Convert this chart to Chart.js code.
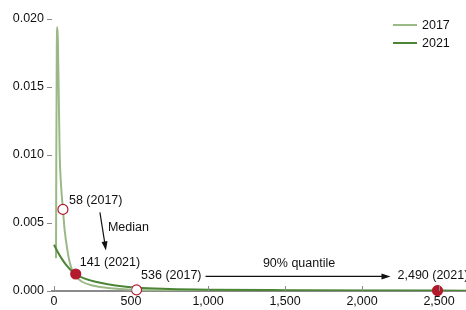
<!DOCTYPE html>
<html>
<head>
<meta charset="utf-8">
<script src="https://cdn.jsdelivr.net/npm/chart.js@4.4.0/dist/chart.umd.min.js"></script>
<style>
  html, body { margin: 0; padding: 0; background: #fff; }
  #wrap { position: relative; width: 466px; height: 310px; }
</style>
</head>
<body>
<div id="wrap"><canvas id="densityChart"></canvas></div>
<script>
// density curves
const x2017 = [13, 15, 18, 21, 25, 30, 37, 44, 58, 69, 87, 100, 119, 141, 180, 250, 350, 536, 800, 1200, 1800, 2680];
const y2017 = [0.0024, 0.010, 0.0175, 0.0194, 0.0185, 0.015, 0.010, 0.0081, 0.006, 0.0045, 0.003, 0.0022, 0.0015, 0.0011, 0.0007, 0.0004, 0.00022, 0.00008, 0.00004, 0.00002, 0.00001, 0.000005];
const x2021 = [0, 25, 50, 80, 110, 141, 180, 230, 300, 400, 536, 750, 1000, 1500, 2000, 2490, 2680];
const y2021 = [0.0034, 0.00285, 0.00238, 0.0019, 0.00153, 0.00125, 0.001, 0.0008, 0.0006, 0.0004, 0.00024, 0.00015, 0.0001, 0.00006, 0.00004, 0.00003, 0.000025];

// marked points: medians and 90% quantiles
const pointX = [58, 141, 536, 2490];
const pointY = [0.006, 0.00125, 0.00008, 0.00003];
const pointLabels = ['58 (2017)', '141 (2021)', '536 (2017)', '2,490 (2021)'];
const pointFilled = [false, true, false, true];

const xTicks = [0, 500, 1000, 1500, 2000, 2500];
const yTicks = [0, 0.005, 0.010, 0.015, 0.020];
const seriesNames = ['2017', '2021'];

const light = '#9bb987';
const dark = '#4b8535';
const red = '#b31b2c';
const axisGrey = '#8a8a8a';
const FONT = '12.5px "Liberation Sans", Arial, sans-serif';

function pairs(xs, ys) {
    return xs.map(function(x, i) { return { x: x, y: ys[i] }; });
}

// annotations, legend and inward x ticks
const extras = {
    id: 'extras',
    afterDraw: function(chart) {
        const c = chart.ctx;
        const xs = chart.scales.x, ys = chart.scales.y;
        const area = chart.chartArea;
        c.save();

        // x tick marks pointing up from the axis
        c.strokeStyle = axisGrey;
        c.lineWidth = 1;
        xTicks.forEach(function(t) {
            const px = Math.round(xs.getPixelForValue(t)) + 0.5;
            c.beginPath();
            c.moveTo(px, area.bottom - 5);
            c.lineTo(px, area.bottom);
            c.stroke();
        });

        c.font = FONT;
        c.fillStyle = '#111';
        c.textBaseline = 'middle';
        const p = pointX.map(function(v, i) {
            return { x: xs.getPixelForValue(v), y: ys.getPixelForValue(pointY[i]) };
        });
        const offs = [[6, -9], [4, -11], [4.5, -14], [-40, -15]];
        pointLabels.forEach(function(t, i) {
            c.fillText(t, p[i].x + offs[i][0], p[i].y + offs[i][1]);
        });

        c.strokeStyle = '#111';
        c.fillStyle = '#111';
        c.lineWidth = 1.2;
        function arrow(x1, y1, x2, y2) {
            const a = Math.atan2(y2 - y1, x2 - x1);
            c.beginPath();
            c.moveTo(x1, y1);
            c.lineTo(x2 - 7 * Math.cos(a), y2 - 7 * Math.sin(a));
            c.stroke();
            c.beginPath();
            c.moveTo(x2, y2);
            c.lineTo(x2 - 9 * Math.cos(a) + 3 * Math.sin(a), y2 - 9 * Math.sin(a) - 3 * Math.cos(a));
            c.lineTo(x2 - 9 * Math.cos(a) - 3 * Math.sin(a), y2 - 9 * Math.sin(a) + 3 * Math.cos(a));
            c.closePath();
            c.fill();
        }
        // median arrow
        arrow(p[0].x + 37, p[0].y + 3, p[0].x + 43, p[0].y + 41);
        c.fillText('Median', p[0].x + 45, p[0].y + 18);

        // 90% quantile arrow
        const qy = p[2].y - 13.5;
        arrow(p[2].x + 69, qy, p[3].x - 47, qy);
        c.textAlign = 'center';
        c.fillText('90% quantile', (p[2].x + p[3].x) / 2 + 12, p[2].y - 26);

        // legend
        c.textAlign = 'left';
        [light, dark].forEach(function(col, i) {
            const ly = 25 + i * 18;
            c.strokeStyle = col;
            c.lineWidth = 2;
            c.beginPath();
            c.moveTo(393, ly);
            c.lineTo(417, ly);
            c.stroke();
            c.fillStyle = '#111';
            c.fillText(seriesNames[i], 422, ly + 1);
        });
        c.restore();
    }
};

document.addEventListener('DOMContentLoaded', function() {
    const ctx = document.getElementById('densityChart').getContext('2d');
    new Chart(ctx, {
        type: 'line',
        data: {
            datasets: [{
                label: seriesNames[0],
                data: pairs(x2017, y2017),
                borderColor: light,
                borderWidth: 2,
                pointRadius: 0,
                cubicInterpolationMode: 'monotone',
                fill: false,
                order: 3
            }, {
                label: seriesNames[1],
                data: pairs(x2021, y2021),
                borderColor: dark,
                borderWidth: 2,
                pointRadius: 0,
                cubicInterpolationMode: 'monotone',
                fill: false,
                order: 2
            }, {
                label: 'points',
                data: pairs(pointX, pointY),
                showLine: false,
                pointRadius: 5,
                pointBorderWidth: 1.2,
                pointBorderColor: red,
                pointBackgroundColor: pointFilled.map(function(f) { return f ? red : '#fff'; }),
                clip: false,
                order: 1
            }]
        },
        options: {
            responsive: true,
            maintainAspectRatio: false,
            animation: false,
            layout: { autoPadding: false, padding: { top: 19, right: 0, left: 0, bottom: 0 } },
            scales: {
                x: {
                    type: 'linear',
                    min: -13,
                    max: 2675,
                    afterBuildTicks: function(s) { s.ticks = xTicks.map(function(v) { return { value: v }; }); },
                    afterFit: function(s) { s.height = 19; },
                    grid: { display: false, drawTicks: false, tickLength: 0 },
                    border: { display: true, color: axisGrey, width: 2 },
                    ticks: {
                        padding: 3,
                        maxRotation: 0,
                        color: '#111',
                        font: { family: '"Liberation Sans", Arial, sans-serif', size: 12.5 },
                        callback: function(v) { return v.toLocaleString('en-US'); }
                    }
                },
                y: {
                    min: 0,
                    max: 0.020,
                    afterBuildTicks: function(s) { s.ticks = yTicks.map(function(v) { return { value: v }; }); },
                    afterFit: function(s) { s.width = 52; },
                    grid: { drawOnChartArea: false, tickLength: 5, color: axisGrey, lineWidth: 1 },
                    border: { display: false },
                    ticks: {
                        padding: 3,
                        color: '#111',
                        font: { family: '"Liberation Sans", Arial, sans-serif', size: 12.5 },
                        callback: function(v) { return v.toFixed(3); }
                    }
                }
            },
            plugins: {
                legend: { display: false },
                tooltip: { enabled: false }
            }
        },
        plugins: [extras]
    });
});
</script>
</body>
</html>
